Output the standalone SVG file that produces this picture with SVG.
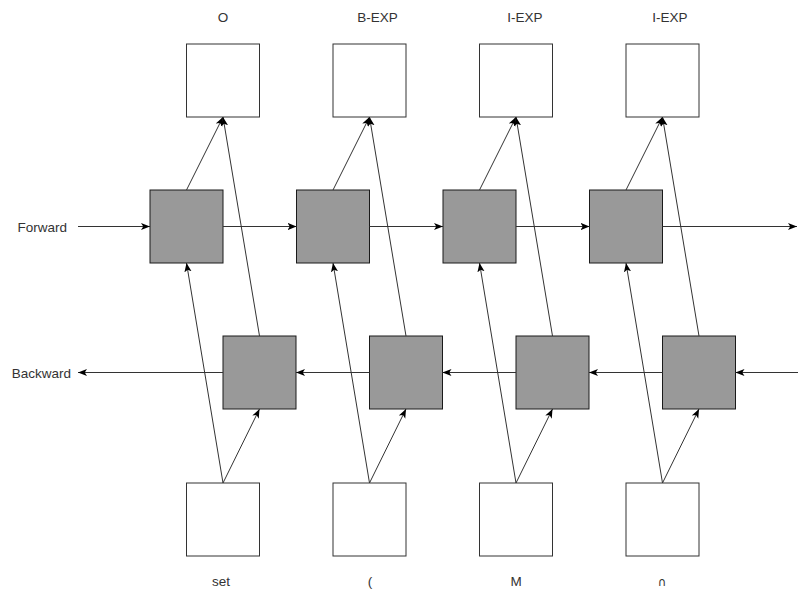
<svg xmlns="http://www.w3.org/2000/svg" width="798" height="594" viewBox="0 0 798 594">
<style>
.io{fill:#ffffff;stroke:#333333;stroke-width:1}
.cell{fill:#999999;stroke:#1a1a1a;stroke-width:1}
.lbl{font-family:"Liberation Sans",Arial,sans-serif;font-size:13.5px;fill:#333333;text-anchor:middle}
.side{font-family:"Liberation Sans",Arial,sans-serif;font-size:13.5px;fill:#333333;text-anchor:end}
.c{stroke:#333333;stroke-width:1;fill:none;marker-end:url(#ah)}
</style>
<defs>
<marker id="ah" viewBox="0 0 10 10" refX="10" refY="5" markerWidth="9" markerHeight="9" markerUnits="userSpaceOnUse" orient="auto">
<path d="M0,1 L10,5 L0,9 L2.5,5 Z" fill="#000000"/>
</marker>
</defs>
<rect width="798" height="594" fill="#ffffff"/>
<g id="labels">
<text class="side" x="67" y="231.5">Forward</text>
<text class="side" x="71" y="377.5">Backward</text>
</g>
<g id="out1"><rect class="io" x="186.5" y="44" width="73" height="73"/><text class="lbl" x="223" y="22">O</text></g>
<g id="out2"><rect class="io" x="333" y="44" width="73" height="73"/><text class="lbl" x="377.5" y="22">B-EXP</text></g>
<g id="out3"><rect class="io" x="479.5" y="44" width="73" height="73"/><text class="lbl" x="525" y="22">I-EXP</text></g>
<g id="out4"><rect class="io" x="626" y="44" width="73" height="73"/><text class="lbl" x="670" y="22">I-EXP</text></g>
<g id="fw1"><rect class="cell" x="150" y="190" width="73" height="73"/></g>
<g id="fw2"><rect class="cell" x="296.5" y="190" width="73" height="73"/></g>
<g id="fw3"><rect class="cell" x="443" y="190" width="73" height="73"/></g>
<g id="fw4"><rect class="cell" x="589.5" y="190" width="73" height="73"/></g>
<g id="bw1"><rect class="cell" x="223" y="336" width="73" height="73"/></g>
<g id="bw2"><rect class="cell" x="369.5" y="336" width="73" height="73"/></g>
<g id="bw3"><rect class="cell" x="516" y="336" width="73" height="73"/></g>
<g id="bw4"><rect class="cell" x="662.5" y="336" width="73" height="73"/></g>
<g id="in1"><rect class="io" x="186.5" y="483" width="73" height="73"/><text class="lbl" x="221" y="586">set</text></g>
<g id="in2"><rect class="io" x="333" y="483" width="73" height="73"/><text class="lbl" x="370" y="586">(</text></g>
<g id="in3"><rect class="io" x="479.5" y="483" width="73" height="73"/><text class="lbl" x="516" y="586">M</text></g>
<g id="in4"><rect class="io" x="626" y="483" width="73" height="73"/><text class="lbl" x="662" y="586" style="font-family:'DejaVu Sans',sans-serif;font-size:12px">∩</text></g>
<g id="connectors">
<line class="c" x1="78" y1="226.5" x2="150" y2="226.5"/>
<line class="c" x1="223" y1="226.5" x2="296.5" y2="226.5"/>
<line class="c" x1="369.5" y1="226.5" x2="443" y2="226.5"/>
<line class="c" x1="516" y1="226.5" x2="589.5" y2="226.5"/>
<line class="c" x1="662.5" y1="226.5" x2="797" y2="226.5"/>
<line class="c" x1="798" y1="372.5" x2="735.5" y2="372.5"/>
<line class="c" x1="662.5" y1="372.5" x2="589" y2="372.5"/>
<line class="c" x1="516" y1="372.5" x2="442.5" y2="372.5"/>
<line class="c" x1="369.5" y1="372.5" x2="296" y2="372.5"/>
<line class="c" x1="223" y1="372.5" x2="78" y2="372.5"/>
<line class="c" x1="223" y1="483" x2="186.5" y2="263"/>
<line class="c" x1="223" y1="483" x2="259.5" y2="409"/>
<line class="c" x1="369.5" y1="483" x2="333" y2="263"/>
<line class="c" x1="369.5" y1="483" x2="406" y2="409"/>
<line class="c" x1="516" y1="483" x2="479.5" y2="263"/>
<line class="c" x1="516" y1="483" x2="552.5" y2="409"/>
<line class="c" x1="662.5" y1="483" x2="626" y2="263"/>
<line class="c" x1="662.5" y1="483" x2="699" y2="409"/>
<line class="c" x1="186.5" y1="190" x2="223" y2="117"/>
<line class="c" x1="259.5" y1="336" x2="223" y2="117"/>
<line class="c" x1="333" y1="190" x2="369.5" y2="117"/>
<line class="c" x1="406" y1="336" x2="369.5" y2="117"/>
<line class="c" x1="479.5" y1="190" x2="516" y2="117"/>
<line class="c" x1="552.5" y1="336" x2="516" y2="117"/>
<line class="c" x1="626" y1="190" x2="662.5" y2="117"/>
<line class="c" x1="699" y1="336" x2="662.5" y2="117"/>
</g>
</svg>
